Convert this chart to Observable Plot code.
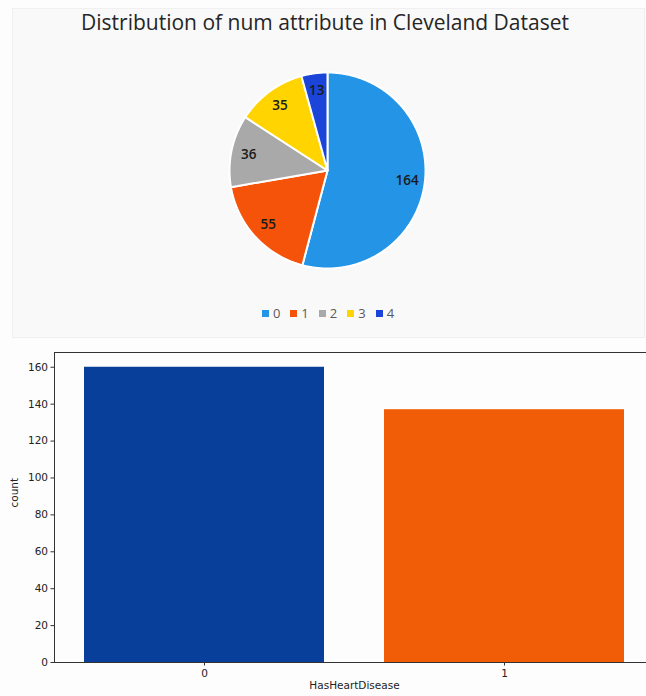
<!DOCTYPE html>
<html>
<head>
<meta charset="utf-8">
<script src="https://cdn.jsdelivr.net/npm/d3@7"></script>
<script src="https://cdn.jsdelivr.net/npm/@observablehq/plot@0.6"></script>
<style>
  html, body { margin: 0; padding: 0; background: #ffffff; }
  #page { position: relative; width: 646px; height: 696px; overflow: hidden; background: #fdfdfd; }
  #panel { position: absolute; left: 12px; top: 8px; width: 631px; height: 328px; background: #f9f9f9; border: 1px solid #f0f0f0; }
  #title { position: absolute; left: 0; top: 8px; width: 650px; text-align: center; font-family: "Open Sans", sans-serif; font-size: 21px; color: #262626; }
  #pie { position: absolute; left: 0; top: 0; }
  #legend { position: absolute; left: 0; top: 304px; width: 656px; display: flex; justify-content: center; gap: 10px; font-family: "Open Sans", sans-serif; font-size: 13px; color: #595959; }
  #legend .item { display: flex; align-items: center; gap: 4px; }
  #legend .sw { width: 7px; height: 7px; display: inline-block; }
  #bars { position: absolute; left: 0; top: 340px; width: 646px; height: 356px; overflow: hidden; }
  #bars svg { max-width: none !important; }
</style>
</head>
<body>
<div id="page">
  <div id="panel"></div>
  <div id="title">Distribution of num attribute in Cleveland Dataset</div>
  <div id="pie"></div>
  <div id="legend"></div>
  <div id="bars"></div>
</div>
<script>
// ---- Data ----
const numCategories = ["0", "1", "2", "3", "4"];
const numCounts = [164, 55, 36, 35, 13];
const pieColors = ["#2394e6", "#f5520a", "#a9a9a9", "#ffd400", "#1a45d8"];

const heartCategories = ["0", "1"];
const heartCounts = [160, 137];
const barColors = ["#083f9b", "#f15c07"];
const yTicks = [0, 20, 40, 60, 80, 100, 120, 140, 160];

// ---- Pie chart ----
const pieRows = numCategories.map((k, i) => ({key: k, count: numCounts[i]}));
const arcs = d3.pie().sort(null).value(d => d.count)(pieRows);
const slicePts = [];
const labelRows = [];
for (const a of arcs) {
  slicePts.push({key: a.data.key, x: 0, y: 0});
  const n = Math.max(2, Math.ceil((a.endAngle - a.startAngle) / 0.01));
  for (let j = 0; j <= n; j++) {
    const t = a.startAngle + (a.endAngle - a.startAngle) * j / n;
    slicePts.push({key: a.data.key, x: Math.sin(t), y: Math.cos(t)});
  }
  const mid = (a.startAngle + a.endAngle) / 2;
  labelRows.push({key: a.data.key, text: String(a.data.count), x: 0.82 * Math.sin(mid), y: 0.82 * Math.cos(mid)});
}

const pie = Plot.plot({
  width: 646,
  height: 290,
  margin: 0,
  style: {background: "transparent", overflow: "visible"},
  x: {domain: [-1, 1], range: [229, 425], axis: null},
  y: {domain: [-1, 1], range: [268, 72], axis: null},
  color: {domain: numCategories, range: pieColors},
  marks: [
    Plot.line(slicePts, {x: "x", y: "y", z: "key", fill: "key", stroke: "white", strokeWidth: 2, curve: "linear-closed"}),
    Plot.text(labelRows, {x: "x", y: "y", text: "text", fill: "#1a1a1a", fontSize: 13.5, fontWeight: 600, fontFamily: "Open Sans, sans-serif"})
  ]
});
document.getElementById("pie").appendChild(pie);

const legend = document.getElementById("legend");
numCategories.forEach((k, i) => {
  const item = document.createElement("span");
  item.className = "item";
  const sw = document.createElement("span");
  sw.className = "sw";
  sw.style.background = pieColors[i];
  const lab = document.createElement("span");
  lab.textContent = k;
  item.appendChild(sw);
  item.appendChild(lab);
  legend.appendChild(item);
});

// ---- Bar chart ----
const barRows = heartCategories.map((k, i) => ({key: k, count: heartCounts[i]}));
const bars = Plot.plot({
  width: 655,
  height: 356,
  marginLeft: 54,
  marginRight: 1,
  marginTop: 12,
  marginBottom: 34,
  style: {background: "transparent", fontFamily: "DejaVu Sans, sans-serif", fontSize: "10.5px", color: "#000", maxWidth: "none"},
  x: {domain: heartCategories, paddingInner: 0.2, paddingOuter: 0.1, label: null},
  y: {domain: [0, 168], label: null},
  color: {domain: heartCategories, range: barColors},
  marks: [
    Plot.barY(barRows, {x: "key", y: "count", fill: "key"}),
    Plot.frame({stroke: "#333", strokeWidth: 1}),
    Plot.axisY(yTicks, {tickSize: 3.5, tickPadding: 3, fontSize: 10.5, fill: "#222", stroke: "#333"}),
    Plot.axisX({tickSize: 3.5, tickPadding: 4, fontSize: 10.5, fill: "#222", stroke: "#333"}),
    Plot.text(["count"], {frameAnchor: "left", dx: -40, rotate: -90, text: d => d, fontSize: 10.5, fill: "#222"}),
    Plot.text(["HasHeartDisease"], {frameAnchor: "bottom", dy: 26, text: d => d, fontSize: 10.5, fill: "#222"})
  ]
});
document.getElementById("bars").appendChild(bars);
</script>
</body>
</html>
